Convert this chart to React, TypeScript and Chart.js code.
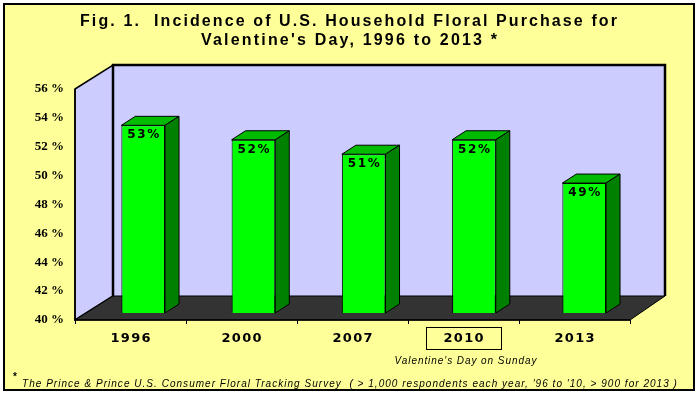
import React, { useEffect, useRef } from 'react';
import { Chart, registerables } from 'chart.js';

Chart.register(...registerables);

// ---- data ----
const categories = ['1996', '2000', '2007', '2010', '2013'];
const incidence = [53, 52, 51, 52, 49];
const yTickValues = [40, 42, 44, 46, 48, 50, 52, 54, 56];
const yMin = 40;
const yMax = 56;
const highlightedCategory = '2010';
const highlightNote = "Valentine's Day on Sunday";
const titleLines = [
  'Fig. 1.  Incidence of U.S. Household Floral Purchase for',
  "Valentine's Day, 1996 to 2013 *",
];
const footnote =
  "The Prince & Prince U.S. Consumer Floral Tracking Survey  ( > 1,000 respondents each year, '96 to '10, > 900 for 2013 )";

// ---- styling / geometry ----
const W = 699;
const H = 397;
const BG = '#FFFF99';
const WALL = '#CCCCFF';
const FLOOR = '#333333';
const BAR_FRONT = '#00FF00';
const BAR_TOP = '#00BB00';
const BAR_SIDE = '#008000';
const DEPTH_X = 38;
const DEPTH_X_RIGHT = 35;
const DEPTH_Y = 24;
const BAR_SHIFT_Y = -7;
const BAR_SCALE_X = 0.99324;
const BAR_SHIFT_X = 13.58;
const BAR_DEPTH_X = 14;
const BAR_DEPTH_Y = 9;
const HEAVY = '"DejaVu Sans", "Liberation Sans", Arial, sans-serif';

function spaced(
  ctx: CanvasRenderingContext2D,
  text: string,
  x: number,
  y: number,
  width: number,
  font: string,
  align: 'left' | 'center' | 'right' = 'center',
  color = '#000'
) {
  ctx.save();
  ctx.font = font;
  ctx.fillStyle = color;
  ctx.textBaseline = 'middle';
  ctx.textAlign = 'left';
  const anyCtx = ctx as any;
  const hasLS = 'letterSpacing' in anyCtx;
  if (hasLS) anyCtx.letterSpacing = '0px';
  const w0 = ctx.measureText(text).width;
  const n = Math.max(1, text.length - 1);
  const sp = hasLS ? Math.max(0, (width - w0) / n) : 0;
  if (hasLS) anyCtx.letterSpacing = sp.toFixed(2) + 'px';
  const total = w0 + sp * (text.length - 1);
  let sx = x;
  if (align === 'center') sx = x - total / 2;
  else if (align === 'right') sx = x - total;
  ctx.fillText(text, sx, y);
  if (hasLS) anyCtx.letterSpacing = '0px';
  ctx.restore();
}

const scenePlugin = {
  id: 'scene3d',
  beforeDraw(chart: any) {
    const ctx: CanvasRenderingContext2D = chart.ctx;
    const { left, right, top, bottom } = chart.chartArea;
    ctx.save();
    // page + frame
    ctx.fillStyle = '#FFFFFF';
    ctx.fillRect(0, 0, W, H);
    ctx.fillStyle = BG;
    ctx.fillRect(4, 4, 690, 386);
    ctx.strokeStyle = '#000';
    ctx.lineWidth = 2;
    ctx.strokeRect(4, 4, 690, 386);

    // title
    spaced(ctx, titleLines[0], 348.5, 21.5, 537, 'bold 16px "Liberation Sans", Arial, sans-serif');
    spaced(ctx, titleLines[1], 349, 41, 296, 'bold 16px "Liberation Sans", Arial, sans-serif');

    const bl = left + DEPTH_X;
    const br = right + DEPTH_X_RIGHT;
    const bt = top - DEPTH_Y;
    const bb = bottom - DEPTH_Y;

    // back wall
    ctx.fillStyle = WALL;
    ctx.fillRect(bl, bt, br - bl, bb - bt);
    // left wall
    ctx.beginPath();
    ctx.moveTo(left, top);
    ctx.lineTo(bl, bt);
    ctx.lineTo(bl, bb);
    ctx.lineTo(left, bottom);
    ctx.closePath();
    ctx.fill();
    ctx.strokeStyle = '#000';
    ctx.lineWidth = 1.5;
    ctx.stroke();
    // floor
    ctx.fillStyle = FLOOR;
    ctx.beginPath();
    ctx.moveTo(left, bottom);
    ctx.lineTo(bl, bb);
    ctx.lineTo(br, bb);
    ctx.lineTo(right, bottom);
    ctx.closePath();
    ctx.fill();
    ctx.lineWidth = 1;
    ctx.stroke();
    // back wall border
    ctx.lineWidth = 2.5;
    ctx.beginPath();
    ctx.moveTo(bl, bb);
    ctx.lineTo(bl, bt);
    ctx.lineTo(br, bt);
    ctx.lineTo(br, bb);
    ctx.stroke();
    // front axis edges
    ctx.lineWidth = 1.5;
    ctx.beginPath();
    ctx.moveTo(left, top);
    ctx.lineTo(left, bottom);
    ctx.lineTo(right, bottom);
    ctx.stroke();

    // x ticks at category boundaries
    const xs = chart.scales.x;
    const bounds: number[] = [left];
    for (let i = 0; i < categories.length - 1; i++) {
      bounds.push((xs.getPixelForValue(i) + xs.getPixelForValue(i + 1)) / 2);
    }
    bounds.push(right);
    ctx.lineWidth = 1;
    ctx.beginPath();
    for (const b of bounds) {
      const bx = Math.round(b) + 0.5;
      ctx.moveTo(bx, bottom);
      ctx.lineTo(bx, bottom + 4);
    }
    ctx.stroke();

    // y tick labels
    const ys = chart.scales.y;
    for (const v of yTickValues) {
      spaced(ctx, v + ' %', 64, ys.getPixelForValue(v), 27, 'bold 13px "Liberation Serif", "Times New Roman", serif', 'right');
    }

    // x labels
    categories.forEach((c, i) => {
      const cx = xs.getPixelForValue(i);
      spaced(ctx, c, cx, 339, 40, 'bold 13px ' + HEAVY);
      if (c === highlightedCategory) {
        ctx.strokeStyle = '#000';
        ctx.lineWidth = 1;
        ctx.strokeRect(Math.round(cx - 37.5) + 0.5, 327.5, 75, 22);
        spaced(ctx, highlightNote, cx + 2, 361, 142, 'italic 10px "Liberation Sans", Arial, sans-serif');
      }
    });

    // footnote
    spaced(ctx, '*', 13, 377, 5, 'bold 10px "Liberation Sans", Arial, sans-serif', 'left');
    spaced(ctx, footnote, 22, 384.5, 655, 'italic 10px "Liberation Sans", Arial, sans-serif', 'left');
    ctx.restore();
  },
  beforeDatasetsDraw(chart: any) {
    const ctx = chart.ctx;
    ctx.save();
    ctx.translate(BAR_SHIFT_X, BAR_SHIFT_Y);
    ctx.scale(BAR_SCALE_X, 1);
  },
  afterDatasetsDraw(chart: any) {
    const ctx: CanvasRenderingContext2D = chart.ctx;
    ctx.restore();
    ctx.save();
    const ys = chart.scales.y;
    const meta = chart.getDatasetMeta(0);
    meta.data.forEach((el: any, i: number) => {
      const fx = BAR_SCALE_X * el.x + BAR_SHIFT_X;
      const hw = (el.width * BAR_SCALE_X) / 2;
      const l = fx - hw;
      const r = fx + hw;
      const t = ys.getPixelForValue(incidence[i]) + BAR_SHIFT_Y;
      const b = ys.getPixelForValue(yMin) + BAR_SHIFT_Y;
      ctx.strokeStyle = '#000';
      ctx.lineWidth = 1;
      // top face
      ctx.fillStyle = BAR_TOP;
      ctx.beginPath();
      ctx.moveTo(l, t);
      ctx.lineTo(l + BAR_DEPTH_X, t - BAR_DEPTH_Y);
      ctx.lineTo(r + BAR_DEPTH_X, t - BAR_DEPTH_Y);
      ctx.lineTo(r, t);
      ctx.closePath();
      ctx.fill();
      ctx.stroke();
      // side face
      ctx.fillStyle = BAR_SIDE;
      ctx.beginPath();
      ctx.moveTo(r, t);
      ctx.lineTo(r + BAR_DEPTH_X, t - BAR_DEPTH_Y);
      ctx.lineTo(r + BAR_DEPTH_X, b - BAR_DEPTH_Y);
      ctx.lineTo(r, b);
      ctx.closePath();
      ctx.fill();
      ctx.stroke();
      // value label
      spaced(ctx, incidence[i] + '%', fx, t + 10, 32, 'bold 12px ' + HEAVY);
    });
    ctx.restore();
  },
};

export default function App() {
  const ref = useRef<HTMLCanvasElement>(null);
  useEffect(() => {
    if (!ref.current) return;
    const chart = new Chart(ref.current, {
      type: 'bar',
      data: {
        labels: categories,
        datasets: [
          {
            data: incidence,
            backgroundColor: BAR_FRONT,
            borderColor: '#000000',
            borderWidth: 1,
            borderSkipped: false,
            barPercentage: 0.396,
            categoryPercentage: 1,
          },
        ],
      },
      options: {
        responsive: false,
        animation: false,
        devicePixelRatio: 1,
        layout: { padding: { left: 75, top: 89, right: 69, bottom: 77 } },
        scales: {
          x: { display: false },
          y: { display: false, min: yMin, max: yMax },
        },
        plugins: {
          legend: { display: false },
          tooltip: { enabled: false },
          title: { display: false },
        },
      },
      plugins: [scenePlugin],
    });
    return () => chart.destroy();
  }, []);
  return (
    <div style={{ position: 'absolute', left: 0, top: 0, width: W, height: H }}>
      <canvas ref={ref} width={W} height={H} style={{ width: W, height: H, display: 'block' }} />
    </div>
  );
}
